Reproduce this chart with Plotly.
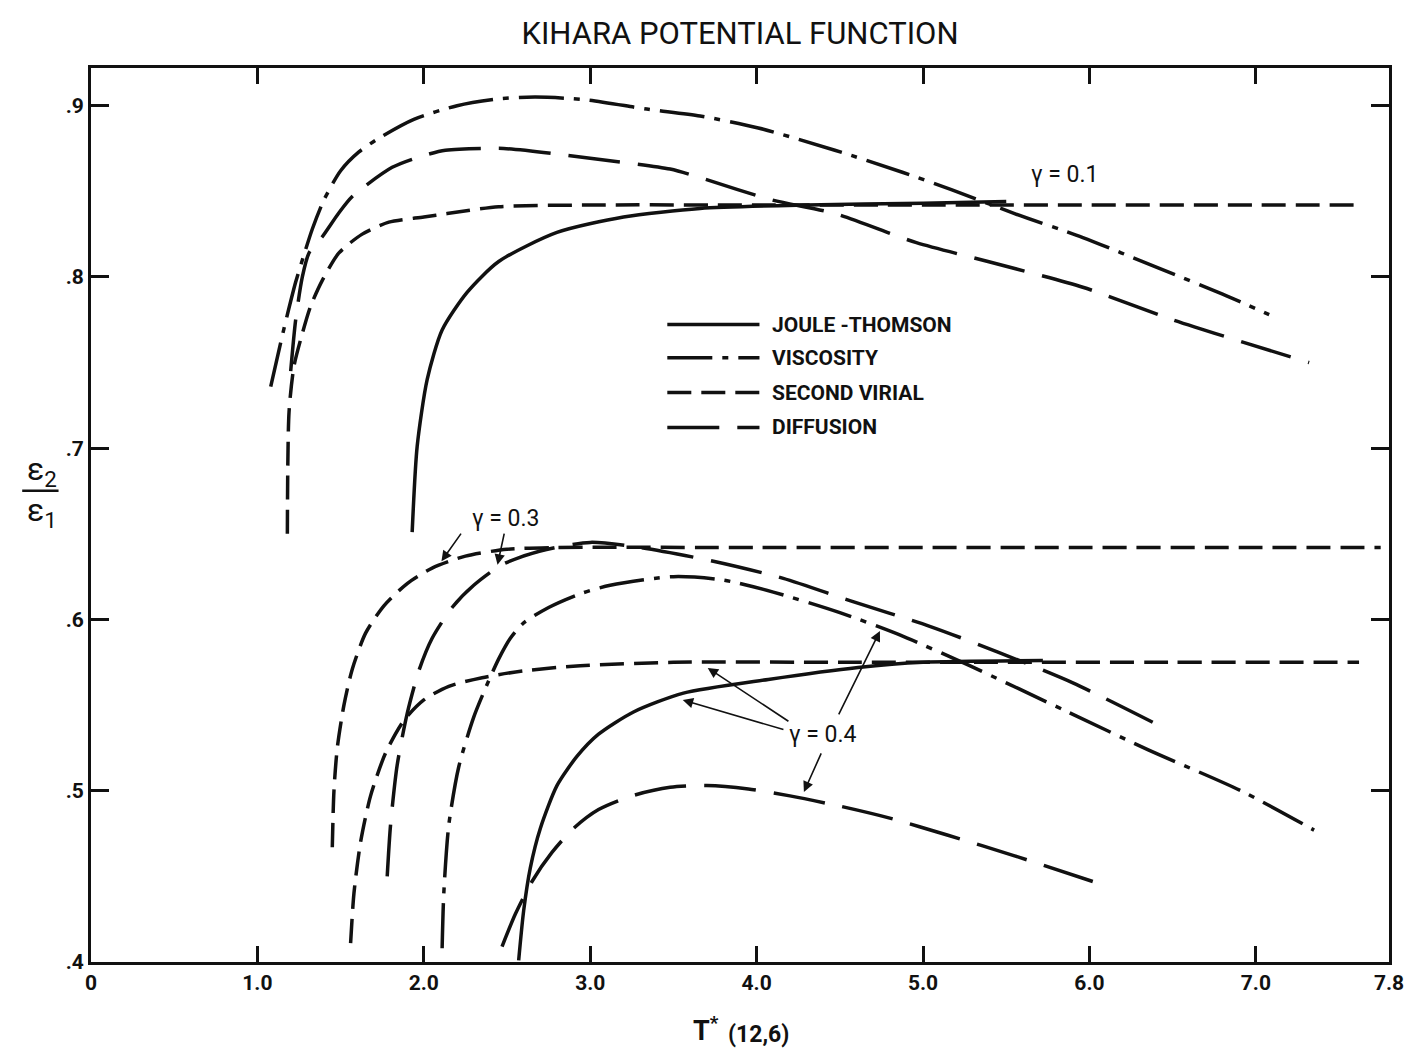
import plotly.graph_objects as go

# ---- curve data: T*(12,6) versus epsilon2/epsilon1 ----
# gamma = 0.1
jt01_x = [1.93, 1.96, 2.02, 2.11, 2.26, 2.45, 2.80, 3.20, 3.66, 4.30, 5.00, 5.50]
jt01_y = [0.651, 0.701, 0.740, 0.769, 0.791, 0.809, 0.826, 0.835, 0.840, 0.842, 0.843, 0.844]

vis01_x = [1.08, 1.16, 1.23, 1.28, 1.33, 1.40, 1.50, 1.61, 1.73, 1.94, 2.20, 2.45, 2.67, 2.97,
           3.34, 3.66, 4.01, 4.47, 4.88, 5.17, 5.55, 5.96, 6.42, 6.80, 7.08]
vis01_y = [0.736, 0.770, 0.797, 0.813, 0.828, 0.845, 0.862, 0.873, 0.881, 0.892, 0.900, 0.904, 0.905, 0.9035,
           0.898, 0.894, 0.887, 0.874, 0.861, 0.851, 0.837, 0.823, 0.805, 0.790, 0.778]

sv01_x = [1.18, 1.19, 1.22, 1.27, 1.32, 1.39, 1.49, 1.63, 1.79, 2.00, 2.14, 2.45, 3.00, 4.00, 5.00, 6.00, 7.00, 7.63]
sv01_y = [0.650, 0.721, 0.748, 0.767, 0.783, 0.798, 0.814, 0.825, 0.832, 0.835, 0.837, 0.841, 0.842, 0.842,
          0.842, 0.842, 0.842, 0.842]

dif01_x = [1.20, 1.23, 1.27, 1.31, 1.39, 1.49, 1.57, 1.81, 1.97, 2.13, 2.48, 2.94, 3.48, 3.66, 4.09, 4.47,
           4.96, 5.39, 5.96, 6.50, 7.32]
dif01_y = [0.745, 0.775, 0.800, 0.814, 0.8235, 0.8375, 0.847, 0.864, 0.870, 0.874, 0.875, 0.870, 0.863, 0.858,
           0.845, 0.837, 0.820, 0.809, 0.794, 0.775, 0.750]

# gamma = 0.3
sv03_x = [1.45, 1.46, 1.48, 1.52, 1.57, 1.65, 1.76, 1.90, 2.05, 2.25, 2.50, 2.80, 4.00, 5.00, 6.00, 7.00, 7.75]
sv03_y = [0.467, 0.500, 0.525, 0.550, 0.571, 0.592, 0.608, 0.621, 0.630, 0.637, 0.641, 0.642, 0.642, 0.642,
          0.642, 0.642, 0.642]

dif03_x = [1.78, 1.80, 1.84, 1.90, 1.97, 2.05, 2.17, 2.30, 2.47, 2.70, 3.00, 3.30, 3.74, 4.16, 4.56, 5.04,
           5.45, 5.90, 6.38]
dif03_y = [0.450, 0.480, 0.515, 0.545, 0.570, 0.589, 0.607, 0.620, 0.632, 0.640, 0.645, 0.642, 0.634, 0.624,
           0.611, 0.596, 0.581, 0.563, 0.540]

# gamma = 0.4
sv04_x = [1.56, 1.58, 1.62, 1.68, 1.77, 1.88, 2.00, 2.15, 2.35, 2.60, 2.94, 3.50, 4.50, 5.50, 6.50, 7.62]
sv04_y = [0.411, 0.440, 0.470, 0.497, 0.522, 0.541, 0.553, 0.561, 0.566, 0.570, 0.573, 0.575, 0.575, 0.575,
          0.575, 0.575]

vis04_x = [2.11, 2.12, 2.15, 2.21, 2.30, 2.38, 2.45, 2.52, 2.60, 2.75, 2.94, 3.12, 3.50, 3.80, 4.10, 4.50,
           4.86, 5.28, 5.87, 6.35, 6.91, 7.35]
vis04_y = [0.408, 0.440, 0.480, 0.514, 0.543, 0.562, 0.577, 0.589, 0.598, 0.607, 0.615, 0.620, 0.625, 0.623,
           0.616, 0.604, 0.591, 0.573, 0.546, 0.524, 0.500, 0.477]

jt04_x = [2.57, 2.60, 2.64, 2.70, 2.80, 2.92, 3.05, 3.26, 3.56, 4.07, 4.61, 5.00, 5.72]
jt04_y = [0.401, 0.430, 0.455, 0.478, 0.503, 0.520, 0.533, 0.546, 0.557, 0.565, 0.572, 0.575, 0.576]

dif04_x = [2.47, 2.55, 2.65, 2.77, 2.90, 3.05, 3.25, 3.48, 3.70, 3.95, 4.20, 4.50, 4.80, 5.15, 5.55, 6.02]
dif04_y = [0.409, 0.428, 0.447, 0.464, 0.478, 0.489, 0.497, 0.502, 0.503, 0.501, 0.497, 0.491, 0.484, 0.474,
           0.462, 0.447]

# axis ticks
x_tickvals = [0, 1, 2, 3, 4, 5, 6, 7, 7.8]
x_ticktext = ["0", "1.0", "2.0", "3.0", "4.0", "5.0", "6.0", "7.0", "7.8"]
y_tickvals = [0.4, 0.5, 0.6, 0.7, 0.8, 0.9]
y_ticktext = [".4", ".5", ".6", ".7", ".8", ".9"]

legend_names = ["JOULE -THOMSON", "VISCOSITY", "SECOND VIRIAL", "DIFFUSION"]

# ---- line styles ----
INK = "#111111"
FONT = "Roboto, Liberation Sans Narrow, sans-serif"
STYLE = {
    "jt": "solid",
    "vis": "45px,10px,6px,10px",
    "sv": "24px,10px",
    "dif": "52px,18px",
}

curves = [
    (jt01_x, jt01_y, "jt"), (vis01_x, vis01_y, "vis"), (sv01_x, sv01_y, "sv"), (dif01_x, dif01_y, "dif"),
    (sv03_x, sv03_y, "sv"), (dif03_x, dif03_y, "dif"),
    (sv04_x, sv04_y, "sv"), (vis04_x, vis04_y, "vis"), (jt04_x, jt04_y, "jt"), (dif04_x, dif04_y, "dif"),
]

fig = go.Figure()
for xs, ys, kind in curves:
    fig.add_trace(go.Scatter(
        x=xs, y=ys, mode="lines", showlegend=False, hoverinfo="skip",
        line=dict(color=INK, width=3.5, dash=STYLE[kind], shape="spline", smoothing=0.7),
    ))

# ---- style key inside the plot ----
key_kinds = ["jt", "vis", "sv", "dif"]
key_y = [0.713, 0.676, 0.637, 0.598]   # paper coords
for name, kind, yy in zip(legend_names, key_kinds, key_y):
    fig.add_shape(type="line", xref="paper", yref="paper", x0=0.444, x1=0.515, y0=yy, y1=yy,
                  line=dict(color=INK, width=3.5, dash=STYLE[kind]))
    fig.add_annotation(xref="paper", yref="paper", x=0.523, y=yy, text="<b>%s</b>" % name,
                       showarrow=False, xanchor="left", yanchor="middle",
                       font=dict(family=FONT, size=21, color=INK))

# ---- gamma labels and pointers ----
gfont = dict(family=FONT, size=23, color=INK)
fig.add_annotation(x=5.85, y=0.860, text="γ = 0.1", showarrow=False, font=gfont)
fig.add_annotation(x=2.49, y=0.659, text="γ = 0.3", showarrow=False, font=gfont)
fig.add_annotation(x=4.40, y=0.533, text="γ = 0.4", showarrow=False, font=gfont)

pointers = [
    # (tip x, tip y, tail x, tail y)
    (2.106, 0.634, 2.23, 0.651),
    (2.443, 0.632, 2.485, 0.651),
    (3.556, 0.553, 4.17, 0.5355),
    (3.706, 0.5717, 4.20, 0.540),
    (4.741, 0.5933, 4.489, 0.5437),
    (4.284, 0.4993, 4.392, 0.5227),
]
for tx, ty, sx, sy in pointers:
    fig.add_annotation(x=tx, y=ty, ax=sx, ay=sy, xref="x", yref="y", axref="x", ayref="y",
                       text="", showarrow=True, arrowhead=2, arrowsize=1.3, arrowwidth=1.6,
                       arrowcolor=INK)

# ---- y axis label as a stacked fraction ----
fig.add_annotation(xref="paper", yref="paper", x=-0.038, y=0.549, xanchor="center", yanchor="middle",
                   text="ε<sub>2</sub>", showarrow=False, font=dict(family=FONT, size=32, color=INK))
fig.add_annotation(xref="paper", yref="paper", x=-0.038, y=0.503, xanchor="center", yanchor="middle",
                   text="ε<sub>1</sub>", showarrow=False, font=dict(family=FONT, size=32, color=INK))
fig.add_shape(type="line", xref="paper", yref="paper", x0=-0.053, x1=-0.025,
              y0=0.527, y1=0.527, line=dict(color=INK, width=2.5))

# ---- x axis label: T* (12,6) ----
fig.add_annotation(xref="paper", yref="paper", x=0.474, y=-0.053, yanchor="top", xanchor="center",
                   text="<b>T<sup>*</sup></b>", showarrow=False,
                   font=dict(family=FONT, size=27, color=INK))
fig.add_annotation(xref="paper", yref="paper", x=0.514, y=-0.064, yanchor="top", xanchor="center",
                   text="<b>(12,6)</b>", showarrow=False,
                   font=dict(family=FONT, size=23, color=INK))

axis_common = dict(showgrid=False, zeroline=False, showline=True, linecolor=INK, linewidth=3,
                   mirror="ticks", ticks="inside", tickcolor=INK, tickwidth=2.5, automargin=False,
                   tickfont=dict(family=FONT, size=21, color=INK), ticklabeloverflow="allow")

fig.update_xaxes(range=[0, 7.8], tickvals=x_tickvals, ticktext=["<b>%s</b>" % t for t in x_ticktext],
                 ticklen=16, **axis_common)
fig.update_yaxes(range=[0.4, 0.922], tickvals=y_tickvals, ticktext=["<b>%s</b>" % t for t in y_ticktext],
                 ticklen=18, **axis_common)

fig.update_layout(
    width=1406, height=1055,
    margin=dict(l=91, r=17, t=68, b=93),
    paper_bgcolor="white", plot_bgcolor="white",
    title=dict(text="KIHARA POTENTIAL FUNCTION", x=0.5, xref="paper", y=0.969, yanchor="middle",
               font=dict(family=FONT, size=31, color=INK)),
)

fig.write_html("out.html")
